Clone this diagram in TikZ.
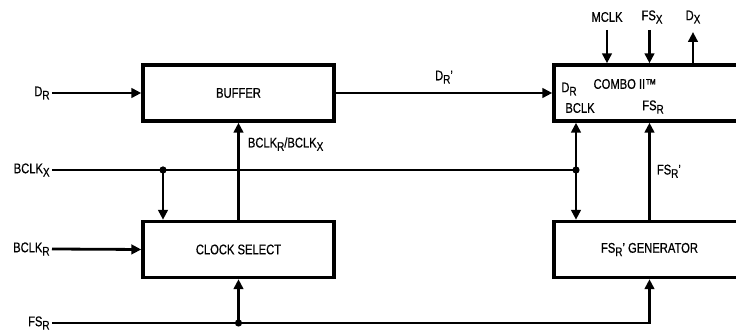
\documentclass[tikz,border=0pt]{standalone}
\usepackage{fontspec}
\setmainfont{Liberation Sans}[FakeStretch=0.8, FakeBold=0.6]
\usetikzlibrary{arrows.meta, positioning}

\newcommand{\lo}[1]{\raisebox{-0.45ex}{\fontsize{6.2}{6.2}\selectfont #1}}

\begin{document}
\begin{tikzpicture}[x=0.5pt, y=-0.5pt,
            box/.style={draw=black, line width=1.7pt, minimum width=95.5pt, minimum height=28pt, inner sep=0pt, align=center, font=\fontsize{7}{8}\selectfont},
            lbl/.style={inner sep=1pt, font=\fontsize{7}{8}\selectfont},
            arr/.style={-{Triangle[length=5pt, width=4.8pt]}, line width=1.4pt},
            dbl/.style={{Triangle[length=5pt, width=4.8pt]}-{Triangle[length=5pt, width=4.8pt]}, line width=1.4pt},
            wire/.style={line width=1.4pt},
            dot/.style={circle, fill=black, inner sep=0pt, minimum size=3.6pt}
        ]
            \useasboundingbox (0,0) rectangle (736,335);

            % Blocks
            \node[box] (buffer) at (238.5, 93) {BUFFER};
            \node[box] (clksel) at (238.5, 249.5) {CLOCK SELECT};
            \node[box] (combo) at (649.5, 93) {};
            \node[box] (gen) at (649.5, 249.5) {FS\lo{R}' GENERATOR};

            % Texts inside COMBO
            \node[lbl] (cdr) at (569, 89) {D\lo{R}};
            \node[lbl] (cbclk) at (580, 108) {BCLK};
            \node[lbl] (cname) at (625, 84) {COMBO II\texttrademark};
            \node[lbl] (cfsr) at (653, 107) {FS\lo{R}};

            % Inputs on the left
            \coordinate (dr) at (52, 93);
            \coordinate (bclkx) at (52, 170);
            \coordinate (bclkr) at (52, 249);
            \coordinate (fsr) at (52, 323);
            \node[lbl, anchor=east] (drlbl) at (dr) {D\lo{R}};
            \node[lbl, anchor=east] (bclkxlbl) at (bclkx) {BCLK\lo{X}};
            \node[lbl, anchor=east] (bclkrlbl) at (bclkr) {BCLK\lo{R}};
            \node[lbl, anchor=east] (fsrlbl) at (fsr) {FS\lo{R}};

            % Pins on top of COMBO
            \coordinate (mclk) at (607, 30);
            \coordinate (fsx) at (649.5, 30);
            \coordinate (dx) at (693, 32);
            \node[lbl] (mclklbl) at (607, 17) {MCLK};
            \node[lbl] (fsxlbl) at (652, 17) {FS\lo{X}};
            \node[lbl] (dxlbl) at (693, 17) {D\lo{X}};

            % Junctions
            \coordinate (j1) at (163, 170);
            \coordinate (j2) at (576, 170);
            \coordinate (j3) at (238.5, 323);

            % Data path
            \draw[arr] (dr) -- (buffer.west);
            \draw[arr] (buffer.east) -- (combo.west) node[lbl, pos=0.5, above=3pt] (drp) {D\lo{R}'};

            % Bit clocks
            \draw[wire] (bclkx) -- (j2);
            \draw[arr] (j1) -- (j1 |- clksel.north);
            \draw[dbl] (combo.south -| j2) -- (gen.north -| j2);
            \draw[arr] (bclkr) -- (clksel.west);
            \draw[arr] (clksel.north) -- (buffer.south) node[lbl, pos=0.78, anchor=west, xshift=3pt] (bclklbl) {BCLK\lo{R}/BCLK\lo{X}};

            % Frame sync
            \draw[arr] (fsr) -| (gen.south);
            \draw[arr] (j3) -- (clksel.south);
            \draw[arr] (gen.north) -- (combo.south) node[lbl, pos=0.5, anchor=west, xshift=2pt] (fsrp) {FS\lo{R}'};

            % Top pins
            \draw[arr] (mclk) -- (mclk |- combo.north);
            \draw[arr] (fsx) -- (combo.north);
            \draw[arr] (combo.north -| dx) -- (dx);

            \node[dot] at (j1) {};
            \node[dot] at (j2) {};
            \node[dot] at (j3) {};
        \end{tikzpicture}
\end{document}
